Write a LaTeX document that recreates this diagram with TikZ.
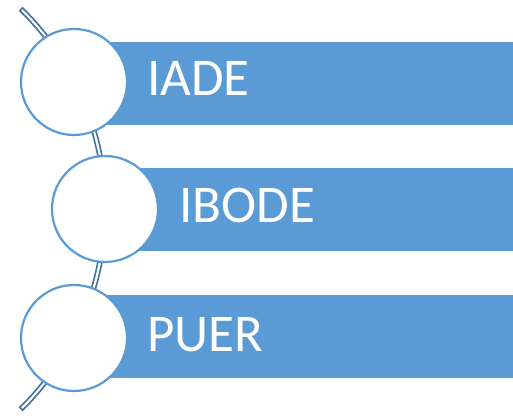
\documentclass[tikz,border=0pt]{standalone}
\usepackage{fontspec}
\setmainfont{Carlito}
\definecolor{barblue}{HTML}{5B9BD5}
\definecolor{arcblue}{HTML}{41719C}
\tikzset{
  bar/.style={fill=barblue, draw=none, anchor=south west, inner sep=0pt, minimum width=#1, minimum height=83pt},
  disc/.style={circle, draw=barblue, line width=2.2pt, fill=white, minimum size=106pt, inner sep=0pt},
  label/.style={anchor=base west, inner sep=0pt, text=white, font=\fontsize{53}{60}\selectfont},
  arcband/.style={draw=arcblue, fill=white, line width=1.6pt}
}
\begin{document}
\begin{tikzpicture}[x=1pt,y=1pt]
\useasboundingbox (0,0) rectangle (513,417);
% bars
\node[bar=439pt] (b1) at (74,292) {};
\node[bar=408pt] (b2) at (105,166) {};
\node[bar=439pt] (b3) at (74,39) {};
% arc band
\coordinate (ac) at (-175,208);
\draw[arcband] ([shift={(45.5:282)}]ac) arc[start angle=45.5, end angle=-45.5, radius=282]
  -- ([shift={(-45.5:278)}]ac) arc[start angle=-45.5, end angle=45.5, radius=278] -- cycle;
% circles
\node[disc] (c1) at (74,335) {};
\node[disc] (c2) at (105,208) {};
\node[disc] (c3) at (74,79) {};
% labels
\node[label] (t1) at (147,321) {IADE};
\node[label] (t2) at (179,194) {IBODE};
\node[label] (t3) at (147,65) {PUER};
\end{tikzpicture}
\end{document}
